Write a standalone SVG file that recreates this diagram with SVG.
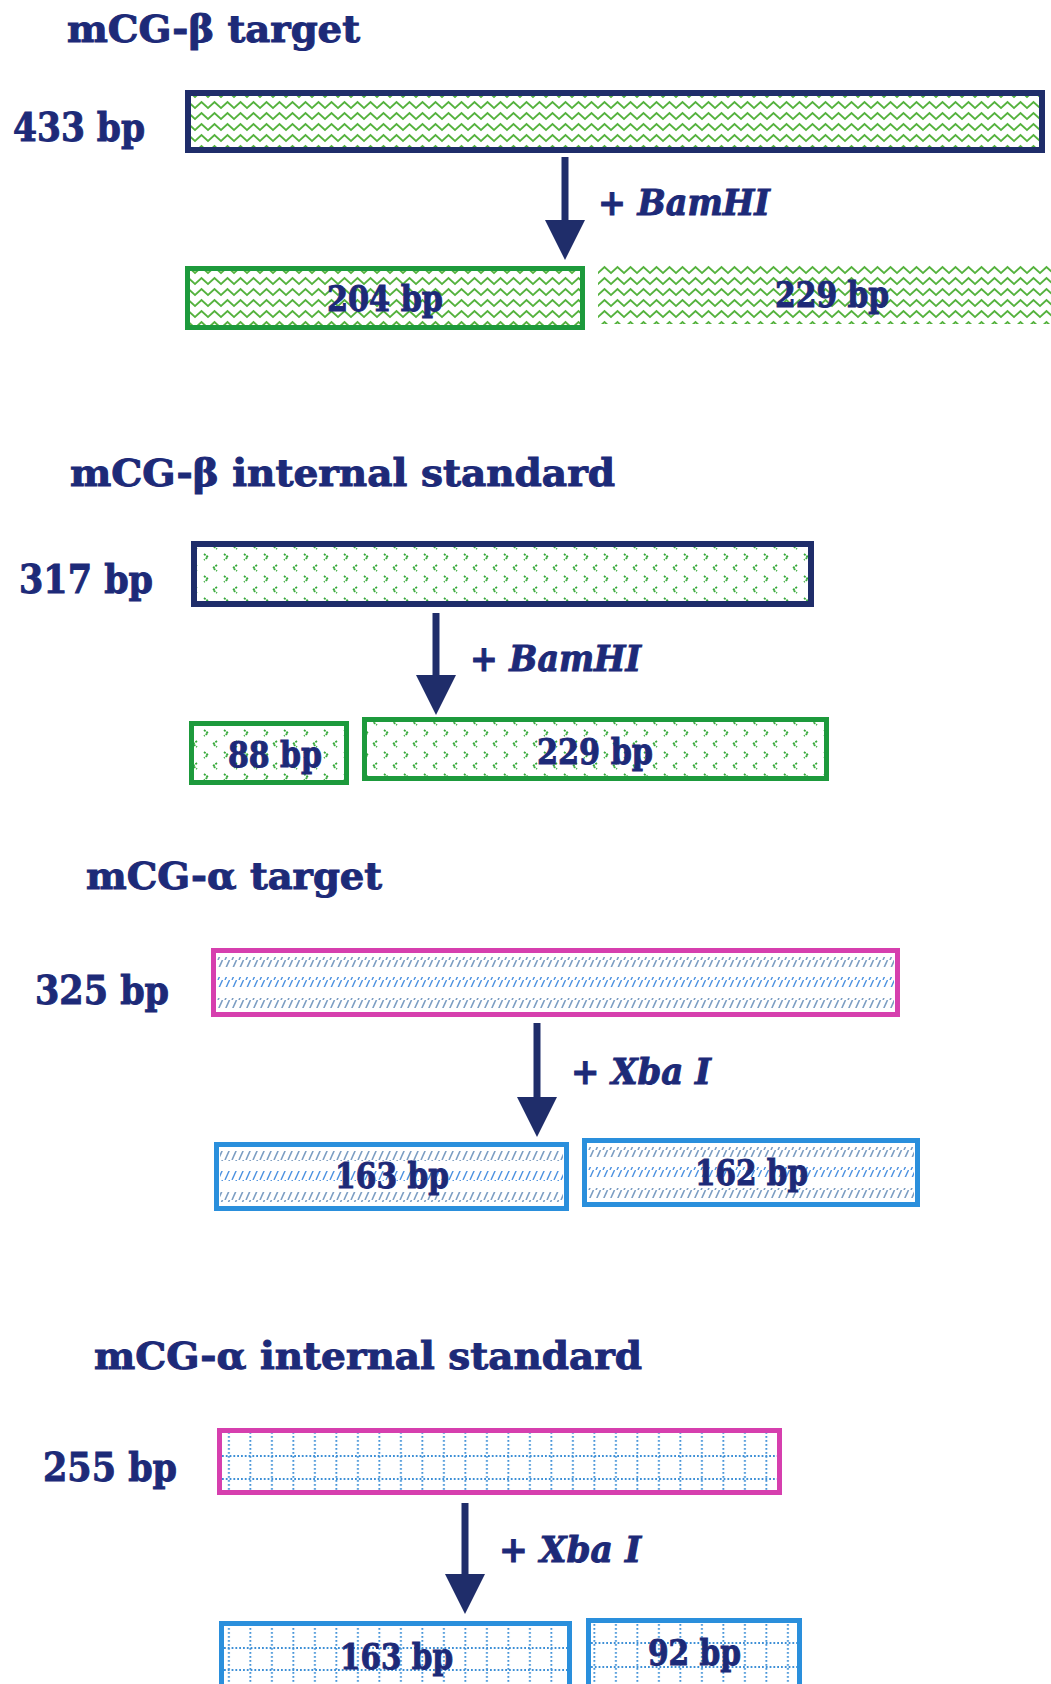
<svg xmlns="http://www.w3.org/2000/svg" width="1051" height="1684" viewBox="0 0 1051 1684">
<style>
.t{font-family:"DejaVu Serif Condensed","DejaVu Serif","Liberation Serif",serif;font-weight:bold;fill:#1d2a78;stroke:#1d2a78;stroke-width:0.9}
.title{font-size:38px}
.len{font-size:40px}
.enz{font-size:35px;font-style:italic}
.in{font-size:35px}
.navy{stroke:#1f2d6a;stroke-width:6;}
.green{stroke:#1d9a3c;stroke-width:5;}
.mag{stroke:#d63fae;stroke-width:5;}
.blue{stroke:#2a8fdc;stroke-width:5;}
.arrow{stroke:#1f2d6a;stroke-width:7;fill:none;marker-end:url(#head)}
.gl{stroke:#3d8fd6;stroke-width:1.8;stroke-dasharray:1.8 2}
</style>
<defs>
<marker id="head" markerUnits="userSpaceOnUse" markerWidth="40" markerHeight="40" viewBox="0 0 38 38" refX="0" refY="19" orient="auto">
<path d="M0,0 L38,19 L0,38 z" fill="#1f2d6a"/>
</marker>
<pattern id="zig" patternUnits="userSpaceOnUse" width="13" height="11" x="0" y="1">
<path d="M-6.5,2 L0,8 L6.5,2 L13,8 L19.5,2" fill="none" stroke="#55b23e" stroke-width="2"/>
</pattern>
<pattern id="chev" patternUnits="userSpaceOnUse" width="20" height="22" x="0" y="2">
<path d="M4,2 L8,5 L4,8" fill="none" stroke="#35a838" stroke-width="1.8" stroke-dasharray="2 1"/>
<path d="M17,13 L13,16 L17,19" fill="none" stroke="#35a838" stroke-width="1.8" stroke-dasharray="2 1"/>
</pattern>
<pattern id="hatch" patternUnits="userSpaceOnUse" width="7" height="10">
<path d="M1,10 L5.5,0" stroke="#7b9dc2" stroke-width="1.6"/>
</pattern>
<pattern id="hatchB" patternUnits="userSpaceOnUse" width="7" height="10">
<path d="M1,10 L5.5,0" stroke="#4a90e0" stroke-width="1.4"/>
</pattern>
<pattern id="grid" patternUnits="userSpaceOnUse" width="21.5" height="4" x="3">
<rect x="10" y="0" width="1.8" height="1.8" fill="#3d8fd6"/>
</pattern>
</defs>
<rect width="1051" height="1684" fill="#ffffff"/>

<!-- Section 1 -->
<text class="t title" x="67" y="42" textLength="293" lengthAdjust="spacingAndGlyphs">mCG-β target</text>
<g id="n433">
<rect x="188" y="93" width="854" height="57" fill="url(#zig)" class="navy"/>
<text class="t len" x="13" y="141" textLength="132" lengthAdjust="spacingAndGlyphs">433 bp</text>
</g>
<g id="n204b">
<rect x="187.5" y="268.5" width="395" height="59" fill="url(#zig)" class="green"/>
<text class="t in" x="327" y="311" textLength="116" lengthAdjust="spacingAndGlyphs">204 bp</text>
</g>
<g id="n229b">
<rect x="598" y="264" width="453" height="60" fill="url(#zig)"/>
<text class="t in" x="775" y="307" textLength="114" lengthAdjust="spacingAndGlyphs">229 bp</text>
</g>
<text class="t enz" x="598" y="215" textLength="172" lengthAdjust="spacingAndGlyphs">+ BamHI</text>

<!-- Section 2 -->
<text class="t title" x="70" y="486" textLength="545" lengthAdjust="spacingAndGlyphs">mCG-β internal standard</text>
<g id="n317">
<rect x="194" y="544" width="617" height="60" fill="url(#chev)" class="navy"/>
<text class="t len" x="19" y="593" textLength="134" lengthAdjust="spacingAndGlyphs">317 bp</text>
</g>
<g id="n88">
<rect x="191.5" y="723.5" width="155" height="59" fill="url(#chev)" class="green"/>
<text class="t in" x="228" y="767" textLength="94" lengthAdjust="spacingAndGlyphs">88 bp</text>
</g>
<g id="n229s">
<rect x="364.5" y="719.5" width="462" height="59" fill="url(#chev)" class="green"/>
<text class="t in" x="537" y="764" textLength="116" lengthAdjust="spacingAndGlyphs">229 bp</text>
</g>
<text class="t enz" x="470" y="671" textLength="171" lengthAdjust="spacingAndGlyphs">+ BamHI</text>

<!-- Section 3 -->
<text class="t title" x="86" y="889" textLength="296" lengthAdjust="spacingAndGlyphs">mCG-α target</text>
<g id="n325">
<rect x="213.5" y="950.5" width="684" height="64" fill="#ffffff" class="mag"/>
<rect x="217" y="957" width="677" height="10" fill="url(#hatch)"/>
<rect x="217" y="977" width="677" height="10" fill="url(#hatchB)"/>
<rect x="217" y="998" width="677" height="10" fill="url(#hatch)"/>
<text class="t len" x="35" y="1004" textLength="134" lengthAdjust="spacingAndGlyphs">325 bp</text>
</g>
<g id="n163a">
<rect x="216.5" y="1144.5" width="350" height="64" fill="#ffffff" class="blue"/>
<rect x="220" y="1151" width="343" height="10" fill="url(#hatch)"/>
<rect x="220" y="1171" width="343" height="10" fill="url(#hatchB)"/>
<rect x="220" y="1192" width="343" height="10" fill="url(#hatch)"/>
<text class="t in" x="335" y="1188" textLength="114" lengthAdjust="spacingAndGlyphs">163 bp</text>
</g>
<g id="n162">
<rect x="584.5" y="1140.5" width="333" height="64" fill="#ffffff" class="blue"/>
<rect x="588" y="1147" width="326" height="10" fill="url(#hatch)"/>
<rect x="588" y="1167" width="326" height="10" fill="url(#hatchB)"/>
<rect x="588" y="1188" width="326" height="10" fill="url(#hatch)"/>
<text class="t in" x="695" y="1185" textLength="113" lengthAdjust="spacingAndGlyphs">162 bp</text>
</g>
<text class="t enz" x="571" y="1084" textLength="140" lengthAdjust="spacingAndGlyphs">+ Xba I</text>

<!-- Section 4 -->
<text class="t title" x="94" y="1369" textLength="548" lengthAdjust="spacingAndGlyphs">mCG-α internal standard</text>
<g id="n255">
<rect x="219.5" y="1430.5" width="560" height="62" fill="url(#grid)" class="mag"/>
<line x1="222" y1="1456" x2="777" y2="1456" class="gl"/>
<line x1="222" y1="1479" x2="777" y2="1479" class="gl"/>
<text class="t len" x="43" y="1481" textLength="134" lengthAdjust="spacingAndGlyphs">255 bp</text>
</g>
<g id="n163s">
<rect x="221.5" y="1623.5" width="348" height="70" fill="url(#grid)" class="blue"/>
<line x1="224" y1="1648" x2="567" y2="1648" class="gl"/>
<line x1="224" y1="1670" x2="567" y2="1670" class="gl"/>
<text class="t in" x="340" y="1669" textLength="113" lengthAdjust="spacingAndGlyphs">163 bp</text>
</g>
<g id="n92">
<rect x="588.5" y="1620.5" width="211" height="70" fill="url(#grid)" class="blue"/>
<line x1="591" y1="1643" x2="797" y2="1643" class="gl"/>
<line x1="591" y1="1667" x2="797" y2="1667" class="gl"/>
<text class="t in" x="648" y="1665" textLength="93" lengthAdjust="spacingAndGlyphs">92 bp</text>
</g>
<text class="t enz" x="499" y="1562" textLength="142" lengthAdjust="spacingAndGlyphs">+ Xba I</text>

<g id="connectors">
<line x1="565" y1="157" x2="565" y2="220" class="arrow"/>
<line x1="436" y1="613" x2="436" y2="675" class="arrow"/>
<line x1="537" y1="1023" x2="537" y2="1097" class="arrow"/>
<line x1="465" y1="1503" x2="465" y2="1574" class="arrow"/>
</g>
</svg>
